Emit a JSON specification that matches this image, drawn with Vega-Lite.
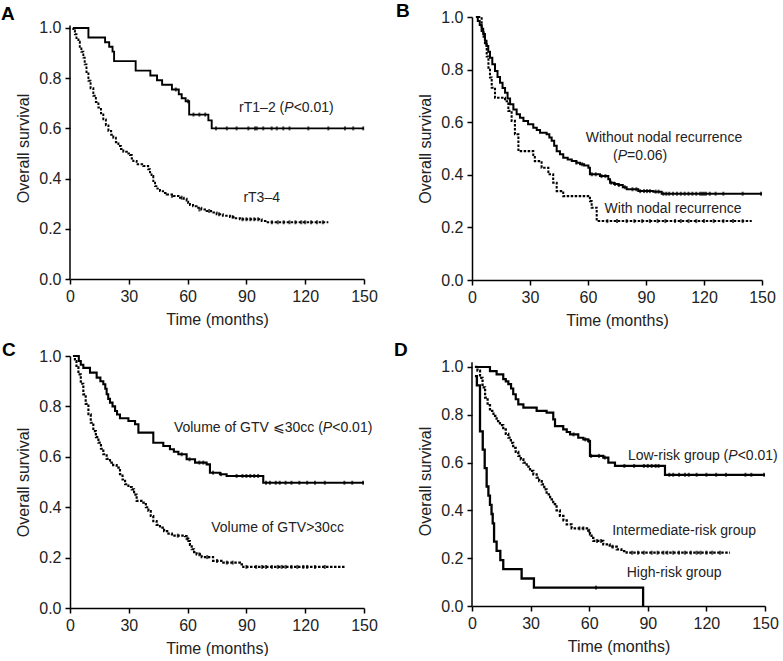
{
"$schema": "https://vega.github.io/schema/vega-lite/v6.json",
"background": "white",
"padding": {"left": 1, "top": 2, "right": 0, "bottom": 0},
"config": {
  "font": "Liberation Sans",
  "view": {"stroke": null},
  "axis": {"domainColor": "black", "domainWidth": 1.5, "tickColor": "black", "tickWidth": 1.5, "tickSize": 5, "labelFontSize": 16, "labelColor": "#222", "titleFontSize": 16, "titleFontWeight": "normal", "titleColor": "#222", "grid": false, "labelPadding": 4, "labelFlush": false, "titlePadding": 7},
  "title": {"fontSize": 19, "fontWeight": "bold", "anchor": "start", "frame": "group", "color": "black"}
},
"datasets": {
  "labels": [
    {"panel":"A","part":"pre","label":"rT1–2 (","t":111.7,"s":0.681},
    {"panel":"A","part":"p","label":"P","t":111.7,"s":0.681},
    {"panel":"A","part":"post","label":"<0.01)","t":111.7,"s":0.681},
    {"panel":"A","part":"plain","label":"rT3–4","t":97.8,"s":0.324},
    {"panel":"B","part":"plain","label":"Without nodal recurrence","t":99.3,"s":0.541},
    {"panel":"B","part":"pre","label":"(","t":77.8,"s":0.471},
    {"panel":"B","part":"p","label":"P","t":77.8,"s":0.471},
    {"panel":"B","part":"post","label":"=0.06)","t":77.8,"s":0.471},
    {"panel":"B","part":"plain","label":"With nodal recurrence","t":104,"s":0.269},
    {"panel":"C","part":"pre","label":"Volume of GTV ⩽30cc (","t":131.4,"s":0.715},
    {"panel":"C","part":"p","label":"P","t":131.4,"s":0.715},
    {"panel":"C","part":"post","label":"<0.01)","t":131.4,"s":0.715},
    {"panel":"C","part":"plain","label":"Volume of GTV>30cc","t":105.9,"s":0.319},
    {"panel":"D","part":"pre","label":"Low-risk group (","t":133.6,"s":0.628},
    {"panel":"D","part":"p","label":"P","t":133.6,"s":0.628},
    {"panel":"D","part":"post","label":"<0.01)","t":133.6,"s":0.628},
    {"panel":"D","part":"plain","label":"Intermediate-risk group","t":108.6,"s":0.314},
    {"panel":"D","part":"plain","label":"High-risk group","t":103.5,"s":0.139}
  ],
  "axisline": [
    {"panel":"A","t":0,"s":0,"s2":1.01},
    {"panel":"D","t":0,"s":0,"s2":1.02}
  ],
  "curves": [
    {"panel":"A","group":"rT1–2","t":1.5,"s":1},{"panel":"A","group":"rT1–2","t":9.4,"s":0.962},{"panel":"A","group":"rT1–2","t":17.9,"s":0.943},{"panel":"A","group":"rT1–2","t":20,"s":0.925},{"panel":"A","group":"rT1–2","t":21.7,"s":0.906},{"panel":"A","group":"rT1–2","t":22.5,"s":0.868},{"panel":"A","group":"rT1–2","t":33.5,"s":0.83},{"panel":"A","group":"rT1–2","t":41,"s":0.811},{"panel":"A","group":"rT1–2","t":44.4,"s":0.792},{"panel":"A","group":"rT1–2","t":47,"s":0.774},{"panel":"A","group":"rT1–2","t":52,"s":0.755},{"panel":"A","group":"rT1–2","t":55.5,"s":0.736},{"panel":"A","group":"rT1–2","t":57,"s":0.72},{"panel":"A","group":"rT1–2","t":59,"s":0.708},{"panel":"A","group":"rT1–2","t":60.8,"s":0.655},{"panel":"A","group":"rT1–2","t":70.6,"s":0.632},{"panel":"A","group":"rT1–2","t":72.3,"s":0.6},{"panel":"A","group":"rT1–2","t":150,"s":0.6},
    {"panel":"A","group":"rT3–4","t":1.5,"s":1},{"panel":"A","group":"rT3–4","t":1.7,"s":0.99},{"panel":"A","group":"rT3–4","t":2.5,"s":0.975},{"panel":"A","group":"rT3–4","t":3.3,"s":0.96},{"panel":"A","group":"rT3–4","t":4.3,"s":0.945},{"panel":"A","group":"rT3–4","t":5,"s":0.925},{"panel":"A","group":"rT3–4","t":5.8,"s":0.905},{"panel":"A","group":"rT3–4","t":6.8,"s":0.882},{"panel":"A","group":"rT3–4","t":7.5,"s":0.855},{"panel":"A","group":"rT3–4","t":8.4,"s":0.825},{"panel":"A","group":"rT3–4","t":9.4,"s":0.79},{"panel":"A","group":"rT3–4","t":10.5,"s":0.76},{"panel":"A","group":"rT3–4","t":11.9,"s":0.73},{"panel":"A","group":"rT3–4","t":13.2,"s":0.705},{"panel":"A","group":"rT3–4","t":14.5,"s":0.683},{"panel":"A","group":"rT3–4","t":15.8,"s":0.66},{"panel":"A","group":"rT3–4","t":17,"s":0.636},{"panel":"A","group":"rT3–4","t":18.3,"s":0.612},{"panel":"A","group":"rT3–4","t":19.6,"s":0.59},{"panel":"A","group":"rT3–4","t":21,"s":0.575},{"panel":"A","group":"rT3–4","t":22.1,"s":0.563},{"panel":"A","group":"rT3–4","t":23.4,"s":0.545},{"panel":"A","group":"rT3–4","t":24.7,"s":0.53},{"panel":"A","group":"rT3–4","t":26,"s":0.518},{"panel":"A","group":"rT3–4","t":27.2,"s":0.507},{"panel":"A","group":"rT3–4","t":29,"s":0.5},{"panel":"A","group":"rT3–4","t":30.6,"s":0.494},{"panel":"A","group":"rT3–4","t":31.5,"s":0.48},{"panel":"A","group":"rT3–4","t":32.3,"s":0.47},{"panel":"A","group":"rT3–4","t":34,"s":0.457},{"panel":"A","group":"rT3–4","t":37.4,"s":0.45},{"panel":"A","group":"rT3–4","t":39.9,"s":0.437},{"panel":"A","group":"rT3–4","t":40.8,"s":0.425},{"panel":"A","group":"rT3–4","t":41.6,"s":0.41},{"panel":"A","group":"rT3–4","t":42.5,"s":0.39},{"panel":"A","group":"rT3–4","t":43.4,"s":0.37},{"panel":"A","group":"rT3–4","t":44.6,"s":0.36},{"panel":"A","group":"rT3–4","t":45.9,"s":0.35},{"panel":"A","group":"rT3–4","t":47.5,"s":0.343},{"panel":"A","group":"rT3–4","t":49.3,"s":0.337},{"panel":"A","group":"rT3–4","t":52.7,"s":0.331},{"panel":"A","group":"rT3–4","t":56.1,"s":0.324},{"panel":"A","group":"rT3–4","t":58,"s":0.32},{"panel":"A","group":"rT3–4","t":59.5,"s":0.313},{"panel":"A","group":"rT3–4","t":60.3,"s":0.303},{"panel":"A","group":"rT3–4","t":61.2,"s":0.295},{"panel":"A","group":"rT3–4","t":62.8,"s":0.29},{"panel":"A","group":"rT3–4","t":64.6,"s":0.284},{"panel":"A","group":"rT3–4","t":67,"s":0.277},{"panel":"A","group":"rT3–4","t":69.7,"s":0.271},{"panel":"A","group":"rT3–4","t":72,"s":0.265},{"panel":"A","group":"rT3–4","t":74.8,"s":0.258},{"panel":"A","group":"rT3–4","t":78,"s":0.252},{"panel":"A","group":"rT3–4","t":81.6,"s":0.247},{"panel":"A","group":"rT3–4","t":84,"s":0.242},{"panel":"A","group":"rT3–4","t":86.7,"s":0.238},{"panel":"A","group":"rT3–4","t":97.8,"s":0.231},{"panel":"A","group":"rT3–4","t":100.3,"s":0.226},{"panel":"A","group":"rT3–4","t":131.8,"s":0.226},
    {"panel":"B","group":"without","t":2,"s":1},{"panel":"B","group":"without","t":3,"s":0.985},{"panel":"B","group":"without","t":4,"s":0.97},{"panel":"B","group":"without","t":5,"s":0.955},{"panel":"B","group":"without","t":5.8,"s":0.935},{"panel":"B","group":"without","t":6.7,"s":0.91},{"panel":"B","group":"without","t":7.5,"s":0.89},{"panel":"B","group":"without","t":8.4,"s":0.868},{"panel":"B","group":"without","t":9.3,"s":0.845},{"panel":"B","group":"without","t":10.5,"s":0.82},{"panel":"B","group":"without","t":11.9,"s":0.795},{"panel":"B","group":"without","t":13.2,"s":0.772},{"panel":"B","group":"without","t":14.5,"s":0.75},{"panel":"B","group":"without","t":15.8,"s":0.73},{"panel":"B","group":"without","t":17.1,"s":0.712},{"panel":"B","group":"without","t":18.4,"s":0.69},{"panel":"B","group":"without","t":19.7,"s":0.668},{"panel":"B","group":"without","t":21.4,"s":0.648},{"panel":"B","group":"without","t":23.1,"s":0.63},{"panel":"B","group":"without","t":24.8,"s":0.617},{"panel":"B","group":"without","t":26.6,"s":0.605},{"panel":"B","group":"without","t":29,"s":0.592},{"panel":"B","group":"without","t":31.7,"s":0.579},{"panel":"B","group":"without","t":33.5,"s":0.57},{"panel":"B","group":"without","t":35.2,"s":0.56},{"panel":"B","group":"without","t":38.6,"s":0.554},{"panel":"B","group":"without","t":40,"s":0.542},{"panel":"B","group":"without","t":41.2,"s":0.529},{"panel":"B","group":"without","t":42.5,"s":0.51},{"panel":"B","group":"without","t":43.8,"s":0.49},{"panel":"B","group":"without","t":45.5,"s":0.478},{"panel":"B","group":"without","t":47.2,"s":0.465},{"panel":"B","group":"without","t":49.5,"s":0.458},{"panel":"B","group":"without","t":51.6,"s":0.452},{"panel":"B","group":"without","t":54,"s":0.446},{"panel":"B","group":"without","t":55.9,"s":0.44},{"panel":"B","group":"without","t":58,"s":0.435},{"panel":"B","group":"without","t":60.2,"s":0.427},{"panel":"B","group":"without","t":61,"s":0.402},{"panel":"B","group":"without","t":66.2,"s":0.395},{"panel":"B","group":"without","t":70.5,"s":0.383},{"panel":"B","group":"without","t":71.4,"s":0.37},{"panel":"B","group":"without","t":73.5,"s":0.365},{"panel":"B","group":"without","t":75.7,"s":0.361},{"panel":"B","group":"without","t":78,"s":0.353},{"panel":"B","group":"without","t":80,"s":0.345},{"panel":"B","group":"without","t":86,"s":0.338},{"panel":"B","group":"without","t":93.8,"s":0.336},{"panel":"B","group":"without","t":98.1,"s":0.328},{"panel":"B","group":"without","t":150,"s":0.328},
    {"panel":"B","group":"with","t":3,"s":1},{"panel":"B","group":"with","t":5,"s":0.947},{"panel":"B","group":"with","t":6,"s":0.92},{"panel":"B","group":"with","t":6.7,"s":0.896},{"panel":"B","group":"with","t":7.6,"s":0.85},{"panel":"B","group":"with","t":8.5,"s":0.807},{"panel":"B","group":"with","t":9.3,"s":0.77},{"panel":"B","group":"with","t":10.2,"s":0.731},{"panel":"B","group":"with","t":11.9,"s":0.693},{"panel":"B","group":"with","t":17.1,"s":0.68},{"panel":"B","group":"with","t":18.8,"s":0.643},{"panel":"B","group":"with","t":20.5,"s":0.605},{"panel":"B","group":"with","t":22.2,"s":0.554},{"panel":"B","group":"with","t":24,"s":0.49},{"panel":"B","group":"with","t":31.7,"s":0.475},{"panel":"B","group":"with","t":32.5,"s":0.452},{"panel":"B","group":"with","t":36,"s":0.427},{"panel":"B","group":"with","t":39.5,"s":0.402},{"panel":"B","group":"with","t":42,"s":0.37},{"panel":"B","group":"with","t":43.8,"s":0.338},{"panel":"B","group":"with","t":47.2,"s":0.319},{"panel":"B","group":"with","t":61,"s":0.3},{"panel":"B","group":"with","t":61.9,"s":0.275},{"panel":"B","group":"with","t":64.5,"s":0.224},{"panel":"B","group":"with","t":144.7,"s":0.224},
    {"panel":"C","group":"le30","t":2,"s":1},{"panel":"C","group":"le30","t":4.5,"s":0.98},{"panel":"C","group":"le30","t":5.5,"s":0.965},{"panel":"C","group":"le30","t":6.8,"s":0.953},{"panel":"C","group":"le30","t":10.2,"s":0.934},{"panel":"C","group":"le30","t":13.6,"s":0.914},{"panel":"C","group":"le30","t":15.5,"s":0.9},{"panel":"C","group":"le30","t":17,"s":0.888},{"panel":"C","group":"le30","t":18,"s":0.87},{"panel":"C","group":"le30","t":18.7,"s":0.848},{"panel":"C","group":"le30","t":19.5,"s":0.83},{"panel":"C","group":"le30","t":20.4,"s":0.815},{"panel":"C","group":"le30","t":21.7,"s":0.8},{"panel":"C","group":"le30","t":23,"s":0.782},{"panel":"C","group":"le30","t":24,"s":0.768},{"panel":"C","group":"le30","t":25.5,"s":0.753},{"panel":"C","group":"le30","t":29.8,"s":0.742},{"panel":"C","group":"le30","t":33.2,"s":0.729},{"panel":"C","group":"le30","t":34.9,"s":0.696},{"panel":"C","group":"le30","t":42.5,"s":0.656},{"panel":"C","group":"le30","t":47.6,"s":0.643},{"panel":"C","group":"le30","t":51,"s":0.63},{"panel":"C","group":"le30","t":53,"s":0.62},{"panel":"C","group":"le30","t":55.3,"s":0.61},{"panel":"C","group":"le30","t":59.5,"s":0.59},{"panel":"C","group":"le30","t":63.8,"s":0.577},{"panel":"C","group":"le30","t":69.7,"s":0.57},{"panel":"C","group":"le30","t":71.4,"s":0.537},{"panel":"C","group":"le30","t":76.5,"s":0.531},{"panel":"C","group":"le30","t":79.9,"s":0.524},{"panel":"C","group":"le30","t":98.6,"s":0.497},{"panel":"C","group":"le30","t":150,"s":0.497},
    {"panel":"C","group":"gt30","t":1.5,"s":1},{"panel":"C","group":"gt30","t":2.5,"s":0.98},{"panel":"C","group":"gt30","t":3.3,"s":0.955},{"panel":"C","group":"gt30","t":4.3,"s":0.927},{"panel":"C","group":"gt30","t":5.5,"s":0.89},{"panel":"C","group":"gt30","t":6.8,"s":0.848},{"panel":"C","group":"gt30","t":8,"s":0.81},{"panel":"C","group":"gt30","t":9.4,"s":0.769},{"panel":"C","group":"gt30","t":10.6,"s":0.735},{"panel":"C","group":"gt30","t":11.9,"s":0.702},{"panel":"C","group":"gt30","t":13.2,"s":0.678},{"panel":"C","group":"gt30","t":14.5,"s":0.656},{"panel":"C","group":"gt30","t":15.8,"s":0.632},{"panel":"C","group":"gt30","t":17,"s":0.61},{"panel":"C","group":"gt30","t":18.7,"s":0.592},{"panel":"C","group":"gt30","t":20.4,"s":0.577},{"panel":"C","group":"gt30","t":22,"s":0.567},{"panel":"C","group":"gt30","t":23.8,"s":0.557},{"panel":"C","group":"gt30","t":25.5,"s":0.531},{"panel":"C","group":"gt30","t":26.8,"s":0.51},{"panel":"C","group":"gt30","t":28.1,"s":0.491},{"panel":"C","group":"gt30","t":29.8,"s":0.48},{"panel":"C","group":"gt30","t":31.5,"s":0.471},{"panel":"C","group":"gt30","t":32.7,"s":0.45},{"panel":"C","group":"gt30","t":34,"s":0.425},{"panel":"C","group":"gt30","t":37.4,"s":0.418},{"panel":"C","group":"gt30","t":38.7,"s":0.4},{"panel":"C","group":"gt30","t":40,"s":0.385},{"panel":"C","group":"gt30","t":41.2,"s":0.365},{"panel":"C","group":"gt30","t":42.5,"s":0.345},{"panel":"C","group":"gt30","t":44.2,"s":0.33},{"panel":"C","group":"gt30","t":45.9,"s":0.319},{"panel":"C","group":"gt30","t":48,"s":0.305},{"panel":"C","group":"gt30","t":50.2,"s":0.295},{"panel":"C","group":"gt30","t":52,"s":0.287},{"panel":"C","group":"gt30","t":58.7,"s":0.285},{"panel":"C","group":"gt30","t":59.5,"s":0.275},{"panel":"C","group":"gt30","t":60.4,"s":0.266},{"panel":"C","group":"gt30","t":61.2,"s":0.25},{"panel":"C","group":"gt30","t":62.1,"s":0.233},{"panel":"C","group":"gt30","t":63.3,"s":0.222},{"panel":"C","group":"gt30","t":64.6,"s":0.213},{"panel":"C","group":"gt30","t":67.2,"s":0.202},{"panel":"C","group":"gt30","t":73,"s":0.187},{"panel":"C","group":"gt30","t":78.2,"s":0.18},{"panel":"C","group":"gt30","t":86.7,"s":0.173},{"panel":"C","group":"gt30","t":88.4,"s":0.163},{"panel":"C","group":"gt30","t":140.3,"s":0.163},
    {"panel":"D","group":"low","t":1.5,"s":1},{"panel":"D","group":"low","t":9.2,"s":0.983},{"panel":"D","group":"low","t":12.6,"s":0.969},{"panel":"D","group":"low","t":16,"s":0.949},{"panel":"D","group":"low","t":17.3,"s":0.94},{"panel":"D","group":"low","t":18.6,"s":0.928},{"panel":"D","group":"low","t":20,"s":0.91},{"panel":"D","group":"low","t":21.1,"s":0.886},{"panel":"D","group":"low","t":22.4,"s":0.865},{"panel":"D","group":"low","t":23.7,"s":0.844},{"panel":"D","group":"low","t":26.3,"s":0.83},{"panel":"D","group":"low","t":33.1,"s":0.816},{"panel":"D","group":"low","t":38.2,"s":0.809},{"panel":"D","group":"low","t":41.6,"s":0.781},{"panel":"D","group":"low","t":42.5,"s":0.753},{"panel":"D","group":"low","t":46.7,"s":0.739},{"panel":"D","group":"low","t":48.5,"s":0.728},{"panel":"D","group":"low","t":50.2,"s":0.718},{"panel":"D","group":"low","t":54.4,"s":0.704},{"panel":"D","group":"low","t":57,"s":0.697},{"panel":"D","group":"low","t":59.5,"s":0.69},{"panel":"D","group":"low","t":60.4,"s":0.628},{"panel":"D","group":"low","t":67.2,"s":0.621},{"panel":"D","group":"low","t":69.8,"s":0.6},{"panel":"D","group":"low","t":73.2,"s":0.586},{"panel":"D","group":"low","t":98.8,"s":0.549},{"panel":"D","group":"low","t":150,"s":0.549},
    {"panel":"D","group":"intermediate","t":1.5,"s":1},{"panel":"D","group":"intermediate","t":2.8,"s":0.985},{"panel":"D","group":"intermediate","t":4.1,"s":0.955},{"panel":"D","group":"intermediate","t":5.4,"s":0.915},{"panel":"D","group":"intermediate","t":6.7,"s":0.872},{"panel":"D","group":"intermediate","t":8,"s":0.84},{"panel":"D","group":"intermediate","t":9.2,"s":0.816},{"panel":"D","group":"intermediate","t":11,"s":0.795},{"panel":"D","group":"intermediate","t":12.6,"s":0.774},{"panel":"D","group":"intermediate","t":14.3,"s":0.757},{"panel":"D","group":"intermediate","t":16,"s":0.739},{"panel":"D","group":"intermediate","t":17.3,"s":0.72},{"panel":"D","group":"intermediate","t":18.6,"s":0.704},{"panel":"D","group":"intermediate","t":19.9,"s":0.683},{"panel":"D","group":"intermediate","t":21.1,"s":0.662},{"panel":"D","group":"intermediate","t":22.4,"s":0.645},{"panel":"D","group":"intermediate","t":23.7,"s":0.628},{"panel":"D","group":"intermediate","t":25,"s":0.613},{"panel":"D","group":"intermediate","t":26.3,"s":0.6},{"panel":"D","group":"intermediate","t":28,"s":0.583},{"panel":"D","group":"intermediate","t":29.7,"s":0.565},{"panel":"D","group":"intermediate","t":31.4,"s":0.551},{"panel":"D","group":"intermediate","t":33.1,"s":0.537},{"panel":"D","group":"intermediate","t":34.4,"s":0.523},{"panel":"D","group":"intermediate","t":35.7,"s":0.509},{"panel":"D","group":"intermediate","t":37,"s":0.488},{"panel":"D","group":"intermediate","t":38.2,"s":0.467},{"panel":"D","group":"intermediate","t":40,"s":0.446},{"panel":"D","group":"intermediate","t":41.6,"s":0.426},{"panel":"D","group":"intermediate","t":43.3,"s":0.4},{"panel":"D","group":"intermediate","t":45,"s":0.377},{"panel":"D","group":"intermediate","t":46.8,"s":0.358},{"panel":"D","group":"intermediate","t":48.5,"s":0.342},{"panel":"D","group":"intermediate","t":51,"s":0.325},{"panel":"D","group":"intermediate","t":59.5,"s":0.315},{"panel":"D","group":"intermediate","t":60.4,"s":0.3},{"panel":"D","group":"intermediate","t":61.2,"s":0.285},{"panel":"D","group":"intermediate","t":62.1,"s":0.272},{"panel":"D","group":"intermediate","t":67.2,"s":0.258},{"panel":"D","group":"intermediate","t":70.5,"s":0.248},{"panel":"D","group":"intermediate","t":74.1,"s":0.237},{"panel":"D","group":"intermediate","t":76.5,"s":0.23},{"panel":"D","group":"intermediate","t":79.2,"s":0.223},{"panel":"D","group":"intermediate","t":132.1,"s":0.223},
    {"panel":"D","group":"high","t":1.5,"s":0.962},{"panel":"D","group":"high","t":2.5,"s":0.923},{"panel":"D","group":"high","t":4.1,"s":0.731},{"panel":"D","group":"high","t":5.5,"s":0.654},{"panel":"D","group":"high","t":6.5,"s":0.577},{"panel":"D","group":"high","t":7.5,"s":0.5},{"panel":"D","group":"high","t":8.4,"s":0.462},{"panel":"D","group":"high","t":9.2,"s":0.423},{"panel":"D","group":"high","t":10,"s":0.385},{"panel":"D","group":"high","t":10.6,"s":0.346},{"panel":"D","group":"high","t":11.3,"s":0.269},{"panel":"D","group":"high","t":12.6,"s":0.231},{"panel":"D","group":"high","t":14.5,"s":0.192},{"panel":"D","group":"high","t":16,"s":0.154},{"panel":"D","group":"high","t":25.4,"s":0.115},{"panel":"D","group":"high","t":31.7,"s":0.077},{"panel":"D","group":"high","t":87.5,"s":0.077},{"panel":"D","group":"high","t":87.6,"s":0}
  ],
  "censors": [
    {"panel":"A","t":54,"s":0.755},{"panel":"A","t":60.2,"s":0.708},{"panel":"A","t":63,"s":0.655},{"panel":"A","t":66,"s":0.655},{"panel":"A","t":69,"s":0.655},{"panel":"A","t":74.5,"s":0.6},{"panel":"A","t":80,"s":0.6},{"panel":"A","t":85,"s":0.6},{"panel":"A","t":91,"s":0.6},{"panel":"A","t":94.4,"s":0.6},{"panel":"A","t":95.3,"s":0.6},{"panel":"A","t":98.6,"s":0.6},{"panel":"A","t":102.9,"s":0.6},{"panel":"A","t":105.5,"s":0.6},{"panel":"A","t":108.8,"s":0.6},{"panel":"A","t":112,"s":0.6},{"panel":"A","t":121.6,"s":0.6},{"panel":"A","t":131.8,"s":0.6},{"panel":"A","t":140.3,"s":0.6},{"panel":"A","t":144.5,"s":0.6},{"panel":"A","t":149.6,"s":0.6},
    {"panel":"A","t":52,"s":0.331},{"panel":"A","t":57,"s":0.324},{"panel":"A","t":66,"s":0.277},{"panel":"A","t":71,"s":0.271},{"panel":"A","t":76,"s":0.258},{"panel":"A","t":83,"s":0.247},{"panel":"A","t":88,"s":0.238},{"panel":"A","t":90,"s":0.238},{"panel":"A","t":92,"s":0.238},{"panel":"A","t":94,"s":0.238},{"panel":"A","t":96,"s":0.238},{"panel":"A","t":103,"s":0.226},{"panel":"A","t":106,"s":0.226},{"panel":"A","t":109,"s":0.226},{"panel":"A","t":112,"s":0.226},{"panel":"A","t":115,"s":0.226},{"panel":"A","t":118,"s":0.226},{"panel":"A","t":120,"s":0.226},{"panel":"A","t":123,"s":0.226},{"panel":"A","t":126,"s":0.226},{"panel":"A","t":129,"s":0.226},
    {"panel":"B","t":54,"s":0.446},{"panel":"B","t":57,"s":0.44},{"panel":"B","t":62,"s":0.402},{"panel":"B","t":64,"s":0.402},{"panel":"B","t":67,"s":0.395},{"panel":"B","t":69,"s":0.395},{"panel":"B","t":72,"s":0.37},{"panel":"B","t":74,"s":0.365},{"panel":"B","t":76,"s":0.361},{"panel":"B","t":79,"s":0.353},{"panel":"B","t":83,"s":0.345},{"panel":"B","t":85,"s":0.345},{"panel":"B","t":87,"s":0.338},{"panel":"B","t":89,"s":0.338},{"panel":"B","t":90.5,"s":0.338},{"panel":"B","t":92,"s":0.338},{"panel":"B","t":95,"s":0.336},{"panel":"B","t":96.5,"s":0.336},{"panel":"B","t":99,"s":0.328},{"panel":"B","t":100.5,"s":0.328},{"panel":"B","t":102,"s":0.328},{"panel":"B","t":104,"s":0.328},{"panel":"B","t":106,"s":0.328},{"panel":"B","t":108,"s":0.328},{"panel":"B","t":110,"s":0.328},{"panel":"B","t":112,"s":0.328},{"panel":"B","t":114,"s":0.328},{"panel":"B","t":116,"s":0.328},{"panel":"B","t":118,"s":0.328},{"panel":"B","t":119,"s":0.328},{"panel":"B","t":120,"s":0.328},{"panel":"B","t":121,"s":0.328},{"panel":"B","t":123,"s":0.328},{"panel":"B","t":126,"s":0.328},{"panel":"B","t":130,"s":0.328},{"panel":"B","t":140,"s":0.328},{"panel":"B","t":149.5,"s":0.328},
    {"panel":"B","t":70,"s":0.224},{"panel":"B","t":75,"s":0.224},{"panel":"B","t":80,"s":0.224},{"panel":"B","t":84,"s":0.224},{"panel":"B","t":88,"s":0.224},{"panel":"B","t":92,"s":0.224},{"panel":"B","t":96,"s":0.224},{"panel":"B","t":100,"s":0.224},{"panel":"B","t":105,"s":0.224},{"panel":"B","t":108,"s":0.224},{"panel":"B","t":112,"s":0.224},{"panel":"B","t":116,"s":0.224},{"panel":"B","t":120,"s":0.224},{"panel":"B","t":125,"s":0.224},{"panel":"B","t":130,"s":0.224},{"panel":"B","t":135,"s":0.224},{"panel":"B","t":140,"s":0.224},
    {"panel":"C","t":57,"s":0.61},{"panel":"C","t":61,"s":0.59},{"panel":"C","t":66,"s":0.577},{"panel":"C","t":68,"s":0.577},{"panel":"C","t":73,"s":0.537},{"panel":"C","t":77,"s":0.531},{"panel":"C","t":85,"s":0.524},{"panel":"C","t":88,"s":0.524},{"panel":"C","t":90,"s":0.524},{"panel":"C","t":92,"s":0.524},{"panel":"C","t":94,"s":0.524},{"panel":"C","t":96,"s":0.524},{"panel":"C","t":100,"s":0.497},{"panel":"C","t":102,"s":0.497},{"panel":"C","t":105,"s":0.497},{"panel":"C","t":107,"s":0.497},{"panel":"C","t":110,"s":0.497},{"panel":"C","t":113,"s":0.497},{"panel":"C","t":117,"s":0.497},{"panel":"C","t":121,"s":0.497},{"panel":"C","t":125,"s":0.497},{"panel":"C","t":130,"s":0.497},{"panel":"C","t":140,"s":0.497},{"panel":"C","t":144,"s":0.497},{"panel":"C","t":149.5,"s":0.497},
    {"panel":"C","t":55,"s":0.287},{"panel":"C","t":60,"s":0.275},{"panel":"C","t":66,"s":0.213},{"panel":"C","t":70,"s":0.202},{"panel":"C","t":75,"s":0.187},{"panel":"C","t":80,"s":0.18},{"panel":"C","t":83,"s":0.18},{"panel":"C","t":90,"s":0.163},{"panel":"C","t":95,"s":0.163},{"panel":"C","t":98,"s":0.163},{"panel":"C","t":100,"s":0.163},{"panel":"C","t":103,"s":0.163},{"panel":"C","t":106,"s":0.163},{"panel":"C","t":108,"s":0.163},{"panel":"C","t":110,"s":0.163},{"panel":"C","t":113,"s":0.163},{"panel":"C","t":116,"s":0.163},{"panel":"C","t":119,"s":0.163},{"panel":"C","t":121,"s":0.163},{"panel":"C","t":125,"s":0.163},{"panel":"C","t":130,"s":0.163},
    {"panel":"D","t":52,"s":0.718},{"panel":"D","t":58,"s":0.697},{"panel":"D","t":60,"s":0.69},{"panel":"D","t":61,"s":0.628},{"panel":"D","t":65,"s":0.628},{"panel":"D","t":68,"s":0.621},{"panel":"D","t":78,"s":0.586},{"panel":"D","t":83,"s":0.586},{"panel":"D","t":88,"s":0.586},{"panel":"D","t":90,"s":0.586},{"panel":"D","t":92,"s":0.586},{"panel":"D","t":94,"s":0.586},{"panel":"D","t":95.5,"s":0.586},{"panel":"D","t":101,"s":0.549},{"panel":"D","t":103,"s":0.549},{"panel":"D","t":106,"s":0.549},{"panel":"D","t":109,"s":0.549},{"panel":"D","t":111,"s":0.549},{"panel":"D","t":115,"s":0.549},{"panel":"D","t":120,"s":0.549},{"panel":"D","t":125,"s":0.549},{"panel":"D","t":130,"s":0.549},{"panel":"D","t":140,"s":0.549},{"panel":"D","t":143,"s":0.549},{"panel":"D","t":149.5,"s":0.549},
    {"panel":"D","t":55,"s":0.325},{"panel":"D","t":57,"s":0.325},{"panel":"D","t":60,"s":0.315},{"panel":"D","t":64,"s":0.272},{"panel":"D","t":66,"s":0.272},{"panel":"D","t":72,"s":0.248},{"panel":"D","t":82,"s":0.223},{"panel":"D","t":85,"s":0.223},{"panel":"D","t":88,"s":0.223},{"panel":"D","t":92,"s":0.223},{"panel":"D","t":95,"s":0.223},{"panel":"D","t":98,"s":0.223},{"panel":"D","t":100,"s":0.223},{"panel":"D","t":103,"s":0.223},{"panel":"D","t":106,"s":0.223},{"panel":"D","t":109,"s":0.223},{"panel":"D","t":112,"s":0.223},{"panel":"D","t":115,"s":0.223},{"panel":"D","t":117,"s":0.223},{"panel":"D","t":120,"s":0.223},{"panel":"D","t":123,"s":0.223},{"panel":"D","t":127,"s":0.223},
    {"panel":"D","t":63.5,"s":0.077}
  ]
},
"columns": 2,
"spacing": {"row": 13, "column": 16},
"concat": [
  {
    "width": 294, "height": 262,
    "title": {"text": "A", "dx": -69, "dy": 11},
    "layer": [
      {"data": {"name": "curves"}, "transform": [{"filter": "datum.panel === 'A'"}],
       "mark": {"type": "line", "interpolate": "step-after", "color": "black"},
       "encoding": {
         "x": {"field": "t", "type": "quantitative", "scale": {"domain": [0, 150], "nice": false}, "axis": {"values": [0, 30, 60, 90, 120, 150], "title": "Time (months)"}},
         "y": {"field": "s", "type": "quantitative", "scale": {"domain": [0, 1.0438], "nice": false}, "axis": {"values": [0, 0.2, 0.4, 0.6, 0.8, 1.0], "format": ".1f", "title": "Overall survival", "domain": false}},
         "detail": {"field": "group"},
         "strokeDash": {"field": "group", "type": "nominal", "legend": null, "scale": {"domain": ["rT1–2", "rT3–4", "without", "with", "le30", "gt30", "low", "intermediate", "high"], "range": [[1, 0], [2.5, 1.5], [1, 0], [2.5, 1.5], [1, 0], [2.5, 1.5], [1, 0], [2.5, 1.5], [1, 0]]}},
         "strokeWidth": {"field": "group", "type": "nominal", "legend": null, "scale": {"domain": ["rT1–2", "rT3–4", "without", "with", "le30", "gt30", "low", "intermediate", "high"], "range": [1.9, 2.3, 1.9, 2.3, 1.9, 2.3, 1.9, 2.3, 1.9]}}
       }},
      {"data": {"name": "censors"}, "transform": [{"filter": "datum.panel === 'A'"}],
       "mark": {"type": "tick", "orient": "vertical", "size": 4, "thickness": 2, "color": "black"},
       "encoding": {"x": {"field": "t", "type": "quantitative"}, "y": {"field": "s", "type": "quantitative"}}},
      {"data": {"name": "axisline"}, "transform": [{"filter": "datum.panel === 'A'"}],
       "mark": {"type": "rule", "color": "black", "strokeWidth": 1.5},
       "encoding": {"x": {"field": "t", "type": "quantitative"}, "y": {"field": "s", "type": "quantitative"}, "y2": {"field": "s2"}}},
      {"data": {"name": "labels"}, "transform": [{"filter": "datum.panel === 'A' && datum.part === 'pre'"}],
       "mark": {"type": "text", "align": "right", "dx": -4.7, "fontSize": 14, "fill": "#222"},
       "encoding": {"x": {"field": "t", "type": "quantitative"}, "y": {"field": "s", "type": "quantitative"}, "text": {"field": "label"}}},
      {"data": {"name": "labels"}, "transform": [{"filter": "datum.panel === 'A' && datum.part === 'p'"}],
       "mark": {"type": "text", "align": "center", "fontStyle": "italic", "fontSize": 14, "fill": "#222"},
       "encoding": {"x": {"field": "t", "type": "quantitative"}, "y": {"field": "s", "type": "quantitative"}, "text": {"field": "label"}}},
      {"data": {"name": "labels"}, "transform": [{"filter": "datum.panel === 'A' && datum.part === 'post'"}],
       "mark": {"type": "text", "align": "left", "dx": 4.7, "fontSize": 14, "fill": "#222"},
       "encoding": {"x": {"field": "t", "type": "quantitative"}, "y": {"field": "s", "type": "quantitative"}, "text": {"field": "label"}}},
      {"data": {"name": "labels"}, "transform": [{"filter": "datum.panel === 'A' && datum.part === 'plain'"}],
       "mark": {"type": "text", "align": "center", "fontSize": 14, "fill": "#222"},
       "encoding": {"x": {"field": "t", "type": "quantitative"}, "y": {"field": "s", "type": "quantitative"}, "text": {"field": "label"}}}
    ]
  },
  {
    "width": 290, "height": 263,
    "title": {"text": "B", "dx": -76, "dy": 16},
    "layer": [
      {"data": {"name": "curves"}, "transform": [{"filter": "datum.panel === 'B'"}],
       "mark": {"type": "line", "interpolate": "step-after", "color": "black"},
       "encoding": {
         "x": {"field": "t", "type": "quantitative", "scale": {"domain": [0, 150], "nice": false}, "axis": {"values": [0, 30, 60, 90, 120, 150], "title": "Time (months)"}},
         "y": {"field": "s", "type": "quantitative", "scale": {"domain": [0, 1], "nice": false}, "axis": {"values": [0, 0.2, 0.4, 0.6, 0.8, 1.0], "format": ".1f", "title": "Overall survival"}},
         "detail": {"field": "group"},
         "strokeDash": {"field": "group", "type": "nominal", "legend": null, "scale": {"domain": ["rT1–2", "rT3–4", "without", "with", "le30", "gt30", "low", "intermediate", "high"], "range": [[1, 0], [2.5, 1.5], [1, 0], [2.5, 1.5], [1, 0], [2.5, 1.5], [1, 0], [2.5, 1.5], [1, 0]]}},
         "strokeWidth": {"field": "group", "type": "nominal", "legend": null, "scale": {"domain": ["rT1–2", "rT3–4", "without", "with", "le30", "gt30", "low", "intermediate", "high"], "range": [1.9, 2.3, 1.9, 2.3, 1.9, 2.3, 1.9, 2.3, 1.9]}}
       }},
      {"data": {"name": "censors"}, "transform": [{"filter": "datum.panel === 'B'"}],
       "mark": {"type": "tick", "orient": "vertical", "size": 4, "thickness": 2, "color": "black"},
       "encoding": {"x": {"field": "t", "type": "quantitative"}, "y": {"field": "s", "type": "quantitative"}}},
      {"data": {"name": "labels"}, "transform": [{"filter": "datum.panel === 'B' && datum.part === 'pre'"}],
       "mark": {"type": "text", "align": "right", "dx": -4.7, "fontSize": 14, "fill": "#222"},
       "encoding": {"x": {"field": "t", "type": "quantitative"}, "y": {"field": "s", "type": "quantitative"}, "text": {"field": "label"}}},
      {"data": {"name": "labels"}, "transform": [{"filter": "datum.panel === 'B' && datum.part === 'p'"}],
       "mark": {"type": "text", "align": "center", "fontStyle": "italic", "fontSize": 14, "fill": "#222"},
       "encoding": {"x": {"field": "t", "type": "quantitative"}, "y": {"field": "s", "type": "quantitative"}, "text": {"field": "label"}}},
      {"data": {"name": "labels"}, "transform": [{"filter": "datum.panel === 'B' && datum.part === 'post'"}],
       "mark": {"type": "text", "align": "left", "dx": 4.7, "fontSize": 14, "fill": "#222"},
       "encoding": {"x": {"field": "t", "type": "quantitative"}, "y": {"field": "s", "type": "quantitative"}, "text": {"field": "label"}}},
      {"data": {"name": "labels"}, "transform": [{"filter": "datum.panel === 'B' && datum.part === 'plain'"}],
       "mark": {"type": "text", "align": "center", "fontSize": 14, "fill": "#222"},
       "encoding": {"x": {"field": "t", "type": "quantitative"}, "y": {"field": "s", "type": "quantitative"}, "text": {"field": "label"}}}
    ]
  },
  {
    "width": 294, "height": 252,
    "title": {"text": "C", "dx": -68, "dy": 16},
    "layer": [
      {"data": {"name": "curves"}, "transform": [{"filter": "datum.panel === 'C'"}],
       "mark": {"type": "line", "interpolate": "step-after", "color": "black"},
       "encoding": {
         "x": {"field": "t", "type": "quantitative", "scale": {"domain": [0, 150], "nice": false}, "axis": {"values": [0, 30, 60, 90, 120, 150], "title": "Time (months)"}},
         "y": {"field": "s", "type": "quantitative", "scale": {"domain": [0, 1], "nice": false}, "axis": {"values": [0, 0.2, 0.4, 0.6, 0.8, 1.0], "format": ".1f", "title": "Overall survival"}},
         "detail": {"field": "group"},
         "strokeDash": {"field": "group", "type": "nominal", "legend": null, "scale": {"domain": ["rT1–2", "rT3–4", "without", "with", "le30", "gt30", "low", "intermediate", "high"], "range": [[1, 0], [2.5, 1.5], [1, 0], [2.5, 1.5], [1, 0], [2.5, 1.5], [1, 0], [2.5, 1.5], [1, 0]]}},
         "strokeWidth": {"field": "group", "type": "nominal", "legend": null, "scale": {"domain": ["rT1–2", "rT3–4", "without", "with", "le30", "gt30", "low", "intermediate", "high"], "range": [1.9, 2.3, 1.9, 2.3, 1.9, 2.3, 1.9, 2.3, 1.9]}}
       }},
      {"data": {"name": "censors"}, "transform": [{"filter": "datum.panel === 'C'"}],
       "mark": {"type": "tick", "orient": "vertical", "size": 4, "thickness": 2, "color": "black"},
       "encoding": {"x": {"field": "t", "type": "quantitative"}, "y": {"field": "s", "type": "quantitative"}}},
      {"data": {"name": "labels"}, "transform": [{"filter": "datum.panel === 'C' && datum.part === 'pre'"}],
       "mark": {"type": "text", "align": "right", "dx": -4.7, "fontSize": 14, "fill": "#222"},
       "encoding": {"x": {"field": "t", "type": "quantitative"}, "y": {"field": "s", "type": "quantitative"}, "text": {"field": "label"}}},
      {"data": {"name": "labels"}, "transform": [{"filter": "datum.panel === 'C' && datum.part === 'p'"}],
       "mark": {"type": "text", "align": "center", "fontStyle": "italic", "fontSize": 14, "fill": "#222"},
       "encoding": {"x": {"field": "t", "type": "quantitative"}, "y": {"field": "s", "type": "quantitative"}, "text": {"field": "label"}}},
      {"data": {"name": "labels"}, "transform": [{"filter": "datum.panel === 'C' && datum.part === 'post'"}],
       "mark": {"type": "text", "align": "left", "dx": 4.7, "fontSize": 14, "fill": "#222"},
       "encoding": {"x": {"field": "t", "type": "quantitative"}, "y": {"field": "s", "type": "quantitative"}, "text": {"field": "label"}}},
      {"data": {"name": "labels"}, "transform": [{"filter": "datum.panel === 'C' && datum.part === 'plain'"}],
       "mark": {"type": "text", "align": "center", "fontSize": 14, "fill": "#222"},
       "encoding": {"x": {"field": "t", "type": "quantitative"}, "y": {"field": "s", "type": "quantitative"}, "text": {"field": "label"}}}
    ]
  },
  {
    "width": 293, "height": 250,
    "title": {"text": "D", "dx": -78, "dy": 8},
    "layer": [
      {"data": {"name": "curves"}, "transform": [{"filter": "datum.panel === 'D'"}],
       "mark": {"type": "line", "interpolate": "step-after", "color": "black"},
       "encoding": {
         "x": {"field": "t", "type": "quantitative", "scale": {"domain": [0, 150], "nice": false}, "axis": {"values": [0, 30, 60, 90, 120, 150], "title": "Time (months)"}},
         "y": {"field": "s", "type": "quantitative", "scale": {"domain": [0, 1.046], "nice": false}, "axis": {"values": [0, 0.2, 0.4, 0.6, 0.8, 1.0], "format": ".1f", "title": "Overall survival", "domain": false}},
         "detail": {"field": "group"},
         "strokeDash": {"field": "group", "type": "nominal", "legend": null, "scale": {"domain": ["rT1–2", "rT3–4", "without", "with", "le30", "gt30", "low", "intermediate", "high"], "range": [[1, 0], [2.5, 1.5], [1, 0], [2.5, 1.5], [1, 0], [2.5, 1.5], [1, 0], [2.5, 1.5], [1, 0]]}},
         "strokeWidth": {"field": "group", "type": "nominal", "legend": null, "scale": {"domain": ["rT1–2", "rT3–4", "without", "with", "le30", "gt30", "low", "intermediate", "high"], "range": [1.9, 2.3, 1.9, 2.3, 1.9, 2.3, 1.9, 2.3, 1.9]}}
       }},
      {"data": {"name": "censors"}, "transform": [{"filter": "datum.panel === 'D'"}],
       "mark": {"type": "tick", "orient": "vertical", "size": 4, "thickness": 2, "color": "black"},
       "encoding": {"x": {"field": "t", "type": "quantitative"}, "y": {"field": "s", "type": "quantitative"}}},
      {"data": {"name": "axisline"}, "transform": [{"filter": "datum.panel === 'D'"}],
       "mark": {"type": "rule", "color": "black", "strokeWidth": 1.5},
       "encoding": {"x": {"field": "t", "type": "quantitative"}, "y": {"field": "s", "type": "quantitative"}, "y2": {"field": "s2"}}},
      {"data": {"name": "labels"}, "transform": [{"filter": "datum.panel === 'D' && datum.part === 'pre'"}],
       "mark": {"type": "text", "align": "right", "dx": -4.7, "fontSize": 14, "fill": "#222"},
       "encoding": {"x": {"field": "t", "type": "quantitative"}, "y": {"field": "s", "type": "quantitative"}, "text": {"field": "label"}}},
      {"data": {"name": "labels"}, "transform": [{"filter": "datum.panel === 'D' && datum.part === 'p'"}],
       "mark": {"type": "text", "align": "center", "fontStyle": "italic", "fontSize": 14, "fill": "#222"},
       "encoding": {"x": {"field": "t", "type": "quantitative"}, "y": {"field": "s", "type": "quantitative"}, "text": {"field": "label"}}},
      {"data": {"name": "labels"}, "transform": [{"filter": "datum.panel === 'D' && datum.part === 'post'"}],
       "mark": {"type": "text", "align": "left", "dx": 4.7, "fontSize": 14, "fill": "#222"},
       "encoding": {"x": {"field": "t", "type": "quantitative"}, "y": {"field": "s", "type": "quantitative"}, "text": {"field": "label"}}},
      {"data": {"name": "labels"}, "transform": [{"filter": "datum.panel === 'D' && datum.part === 'plain'"}],
       "mark": {"type": "text", "align": "center", "fontSize": 14, "fill": "#222"},
       "encoding": {"x": {"field": "t", "type": "quantitative"}, "y": {"field": "s", "type": "quantitative"}, "text": {"field": "label"}}}
    ]
  }
]
}
